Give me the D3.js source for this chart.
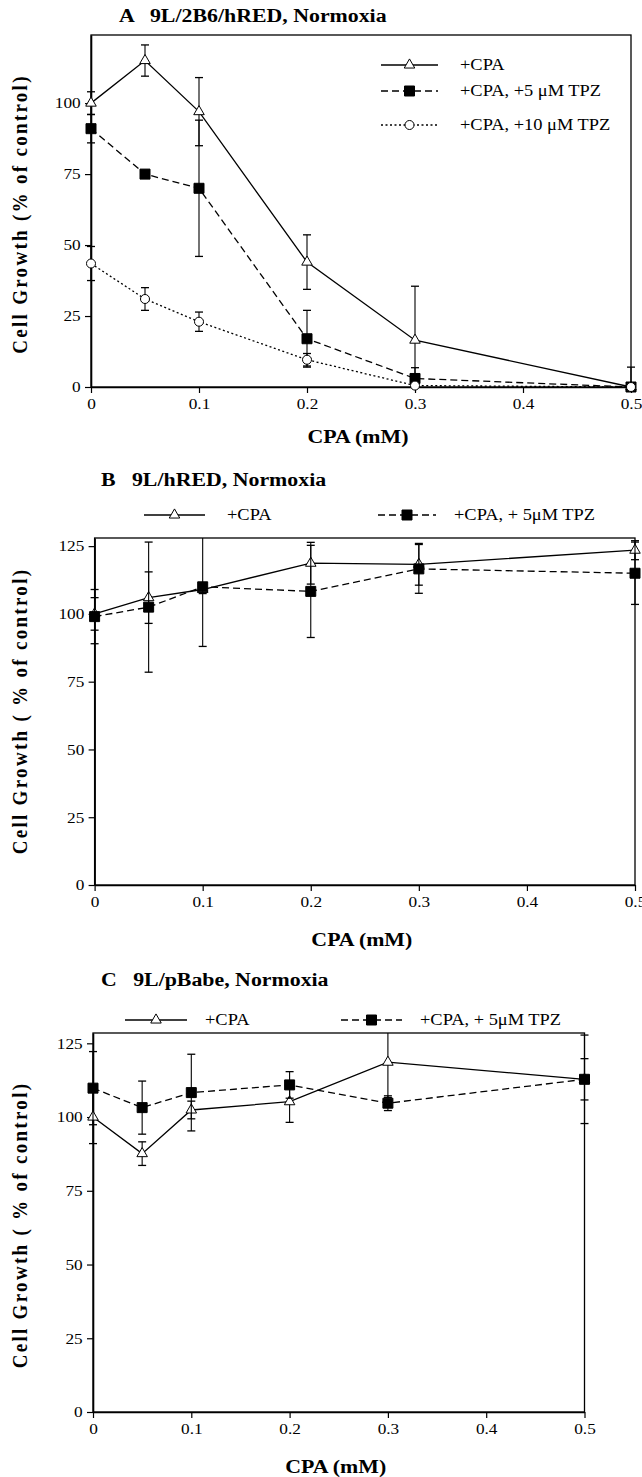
<!DOCTYPE html>
<html>
<head>
<meta charset="utf-8">
<script src="https://cdn.jsdelivr.net/npm/d3@7"></script>
<style>
    body { margin: 0; background: #fff; }
    svg text { font-family: "Liberation Serif", "Times New Roman", Times, "DejaVu Serif", serif; fill: #000; white-space: pre; }
</style>
</head>
<body>
<svg id="chart" width="642" height="1477"></svg>
<script>
// CPA doses (mM) shared by every panel
const doses = [0, 0.05, 0.1, 0.2, 0.3, 0.5]
const xTicks = [0, 0.1, 0.2, 0.3, 0.4, 0.5]

// Panel A: 9L/2B6/hRED
const aCpa = [100, 115, 97, 44, 16.5, 0]
const aCpaErr = [4, 5.5, 12, 9.6, 19, 7]
const aTpz5 = [91, 75, 70, 17, 3, 0]
const aTpz5Err = [5, 1, 24, 10, 3.8, 0]
const aTpz10 = [43.5, 31, 23, 9.6, 0.5, 0]
const aTpz10Err = [6, 4, 3.4, 2.2, 0, 0]
const aYTicks = [0, 25, 50, 75, 100]

// Panel B: 9L/hRED
const bCpa = [100, 106, 109, 118.7, 118.3, 123.5]
const bCpaErr = [6, 9.5, 1.5, 7.7, 7.7, 3.5]
const bTpz5 = [99, 102.5, 110, 108.3, 116.6, 115]
const bTpz5Err = [10, 24, 22, 17, 9, 11.5]

// Panel C: 9L/pBabe
const cCpa = [100, 87.6, 102.4, 105.2, 118.6, 112.8]
const cCpaErr = [9, 4, 3, 7, 12, 15]
const cTpz5 = [109.8, 103.2, 108.3, 110.9, 104.7, 112.8]
const cTpz5Err = [12.4, 9, 13, 4.5, 2.5, 7]
const bcYTicks = [0, 25, 50, 75, 100, 125]

const svg = d3.select('#chart')
const FONT = '"Liberation Serif", "Times New Roman", Times, "DejaVu Serif", serif'
const SX = 1.15 // the scan is a bit wider than tall, stretch the text the same way

const addText = (g, x, y, str, size, bold) => g.append('text')
    .attr('transform', `translate(${x},${y}) scale(${SX},1)`)
    .style('font-family', FONT)
    .style('font-size', size + 'px')
    .style('font-weight', bold ? 'bold' : 'normal')
    .text(str)

// line / marker style of each kind of series
const styles = {
    cpa: { dash: null, symbol: d3.symbolTriangle, size: 48, fill: '#fff' },
    tpz5: { dash: '7,4', symbol: d3.symbolSquare, size: 100, fill: '#000' },
    tpz10: { dash: '2,2.5', symbol: d3.symbolCircle, size: 64, fill: '#fff' },
}

const drawMarker = (g, kind, x, y) => {
    const st = styles[kind]
    g.append('path')
        .attr('d', d3.symbol().type(st.symbol).size(st.size)())
        .attr('transform', `translate(${x},${y})`)
        .attr('fill', st.fill)
        .attr('stroke', '#000')
        .attr('stroke-width', 1)
}

const drawPanel = p => {
    const g = svg.append('g')
    const x = d3.scaleLinear().domain([0, 0.5]).range([p.left, p.right])
    const y = d3.scaleLinear().domain([0, p.yMax]).range([p.bottom, p.top])

    // frame
    g.append('rect')
        .attr('x', x(0)).attr('y', y(p.yMax))
        .attr('width', x(0.5) - x(0)).attr('height', y(0) - y(p.yMax))
        .attr('fill', 'none').attr('stroke', '#000').attr('stroke-width', 1.3)

    // axes
    const yAxis = g.append('g')
        .attr('transform', `translate(${x(0)},0)`)
        .call(d3.axisLeft(y).tickValues(p.yTicks).tickSize(6).tickSizeOuter(0).tickPadding(4))
    const xAxis = g.append('g')
        .attr('transform', `translate(0,${y(0)})`)
        .call(d3.axisBottom(x).tickValues(xTicks).tickSize(6).tickSizeOuter(0).tickPadding(5)
            .tickFormat(d => d === 0 ? '0' : d3.format('.1f')(d)))
    ;[yAxis, xAxis].forEach(ax => {
        ax.select('.domain').attr('stroke-width', 1.6)
        ax.selectAll('.tick line').attr('stroke-width', 1.2)
        ax.selectAll('.tick text')
            .style('font-family', FONT)
            .style('font-size', '15px')
            .attr('fill', '#000')
            .attr('transform', `scale(${SX},1)`)
    })
    yAxis.selectAll('.tick text').attr('x', -9)

    // series
    p.series.forEach(s => {
        const st = styles[s.kind]
        const pts = doses.map((d, i) => ({ x: d, v: s.values[i], e: s.errors[i] }))

        g.append('path')
            .datum(pts)
            .attr('d', d3.line().x(d => x(d.x)).y(d => y(d.v)))
            .attr('fill', 'none')
            .attr('stroke', '#000')
            .attr('stroke-width', 1.3)
            .attr('stroke-dasharray', st.dash)

        // error bars, clipped to the frame
        pts.filter(d => d.e > 0).forEach(d => {
            const hi = Math.min(d.v + d.e, p.yMax)
            const lo = Math.max(d.v - d.e, 0)
            const cx = x(d.x)
            g.append('line')
                .attr('x1', cx).attr('x2', cx).attr('y1', y(hi)).attr('y2', y(lo))
                .attr('stroke', '#000').attr('stroke-width', 1.1)
            ;[[hi, d.v + d.e <= p.yMax], [lo, d.v - d.e >= 0]].forEach(([v, show]) => {
                if (show)
                    g.append('line')
                        .attr('x1', cx - 4).attr('x2', cx + 4).attr('y1', y(v)).attr('y2', y(v))
                        .attr('stroke', '#000').attr('stroke-width', 1.3)
            })
        })
        pts.forEach(d => drawMarker(g, s.kind, x(d.x), y(d.v)))
    })

    // legend
    p.series.forEach((s, i) => {
        const L = p.legend[i]
        g.append('line')
            .attr('x1', L.x).attr('x2', L.x + L.w).attr('y1', L.y).attr('y2', L.y)
            .attr('stroke', '#000').attr('stroke-width', 1.3)
            .attr('stroke-dasharray', styles[s.kind].dash)
        drawMarker(g, s.kind, L.x + L.w / 2, L.y)
        addText(g, L.tx, L.y + 5, s.label, 16, false)
    })

    // titles
    addText(g, p.titleX, p.titleY, p.title, 19, true)
    addText(g, (x(0) + x(0.5)) / 2 - 3, p.xLabelY, 'CPA (mM)', 19, true)
        .attr('text-anchor', 'middle')
    g.append('text')
        .attr('transform', `translate(27,${p.yLabelY}) rotate(-90) scale(1,${SX})`)
        .attr('text-anchor', 'middle')
        .style('font-family', FONT)
        .style('font-size', '19px')
        .style('font-weight', 'bold')
        .style('letter-spacing', '2.3px')
        .text(p.yLabel)
}

drawPanel({
    title: 'A   9L/2B6/hRED, Normoxia', titleX: 119, titleY: 22,
    left: 91, right: 631, top: 35, bottom: 387, yMax: 124, yTicks: aYTicks,
    xLabelY: 443, yLabelY: 214, yLabel: 'Cell Growth (% of control)',
    series: [
        { kind: 'cpa', label: '+CPA', values: aCpa, errors: aCpaErr },
        { kind: 'tpz5', label: '+CPA, +5 \u03bcM TPZ', values: aTpz5, errors: aTpz5Err },
        { kind: 'tpz10', label: '+CPA, +10 \u03bcM TPZ', values: aTpz10, errors: aTpz10Err },
    ],
    legend: [
        { x: 381, w: 57, y: 65, tx: 460 },
        { x: 381, w: 57, y: 91, tx: 460 },
        { x: 381, w: 57, y: 125, tx: 460 },
    ],
})

drawPanel({
    title: 'B   9L/hRED, Normoxia', titleX: 101, titleY: 486,
    left: 94.6, right: 635, top: 538, bottom: 885, yMax: 128, yTicks: bcYTicks,
    xLabelY: 946, yLabelY: 711, yLabel: 'Cell Growth ( % of control)',
    series: [
        { kind: 'cpa', label: '+CPA', values: bCpa, errors: bCpaErr },
        { kind: 'tpz5', label: '+CPA, + 5\u03bcM TPZ', values: bTpz5, errors: bTpz5Err },
    ],
    legend: [
        { x: 144, w: 61, y: 515, tx: 227 },
        { x: 378, w: 58, y: 515, tx: 454 },
    ],
})

drawPanel({
    title: 'C   9L/pBabe, Normoxia', titleX: 101, titleY: 986,
    left: 93, right: 584.5, top: 1033, bottom: 1412, yMax: 128.5, yTicks: bcYTicks,
    xLabelY: 1473, yLabelY: 1225, yLabel: 'Cell Growth ( % of control)',
    series: [
        { kind: 'cpa', label: '+CPA', values: cCpa, errors: cCpaErr },
        { kind: 'tpz5', label: '+CPA, + 5\u03bcM TPZ', values: cTpz5, errors: cTpz5Err },
    ],
    legend: [
        { x: 125, w: 62, y: 1020, tx: 205 },
        { x: 341, w: 61, y: 1020, tx: 420 },
    ],
})
</script>
</body>
</html>
